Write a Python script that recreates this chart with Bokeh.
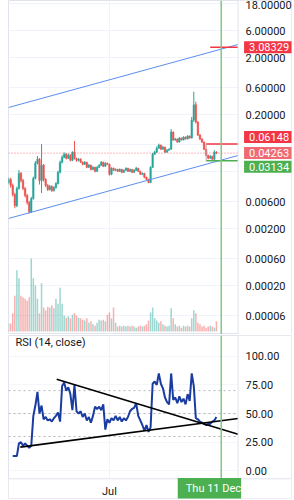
import math
import numpy as np
import pandas as pd
from bokeh.plotting import figure
from bokeh.layouts import column
from bokeh.models import (ColumnDataSource, Range1d, LinearScale, FixedTicker,
                          CustomJSTickFormatter, DatetimeTickFormatter, Span, Label,
                          BoxAnnotation)
from bokeh.embed import file_html
from bokeh.resources import INLINE

# ---------------- data ----------------
first_bar = "2025-02-04"
bar_step_days = 3

opens = [0.0130, 0.0147, 0.0115, 0.0080, 0.0051, 0.0102, 0.0188, 0.0141, 0.0102, 0.0077,
         0.0058, 0.0040, 0.0068, 0.0153, 0.0283, 0.0333, 0.0141, 0.0261, 0.0147, 0.0115,
         0.0098, 0.0111, 0.0094, 0.0106, 0.0125, 0.0196, 0.0294, 0.0361, 0.0408, 0.0347,
         0.0392, 0.0319, 0.0443, 0.0340, 0.0319, 0.0333, 0.0294, 0.0271, 0.0294, 0.0240,
         0.0261, 0.0221, 0.0240, 0.0204, 0.0240, 0.0261, 0.0294, 0.0250, 0.0283, 0.0271,
         0.0181, 0.0231, 0.0213, 0.0221, 0.0204, 0.0221, 0.0196, 0.0213, 0.0231, 0.0204,
         0.0221, 0.0196, 0.0213, 0.0231, 0.0204, 0.0181, 0.0188, 0.0160, 0.0147, 0.0130,
         0.0240, 0.0408, 0.0443, 0.0521, 0.0589, 0.0500, 0.0543, 0.0443, 0.0480, 0.0500,
         0.1000, 0.0722, 0.0752, 0.0665, 0.0783, 0.0722, 0.0816, 0.0752, 0.0850, 0.0783,
         0.163, 0.300, 0.150, 0.0885, 0.0752, 0.0665, 0.0500, 0.0392, 0.0347, 0.0376,
         0.0333, 0.0443]
highs = [0.0160, 0.0158, 0.0125, 0.0086, 0.0110, 0.0215, 0.0200, 0.0150, 0.0108, 0.0082,
         0.0062, 0.0073, 0.0165, 0.0310, 0.0380, 0.0350, 0.0613, 0.0275, 0.0155, 0.0122,
         0.0118, 0.0116, 0.0112, 0.0132, 0.0210, 0.0315, 0.0390, 0.0440, 0.0425, 0.0420,
         0.0410, 0.0460, 0.0693, 0.0355, 0.0350, 0.0345, 0.0305, 0.0310, 0.0300, 0.0275,
         0.0268, 0.0250, 0.0246, 0.0252, 0.0272, 0.0310, 0.0302, 0.0295, 0.0290, 0.0278,
         0.0240, 0.0238, 0.0230, 0.0226, 0.0230, 0.0226, 0.0220, 0.0240, 0.0236, 0.0228,
         0.0225, 0.0222, 0.0245, 0.0236, 0.0210, 0.0195, 0.0192, 0.0165, 0.0152, 0.0250,
         0.0430, 0.0470, 0.0560, 0.0625, 0.0600, 0.0570, 0.0555, 0.0500, 0.0520, 0.1130,
         0.1020, 0.0790, 0.0770, 0.0810, 0.0800, 0.0840, 0.0830, 0.0880, 0.0870, 0.184,
         0.510, 0.340, 0.155, 0.0920, 0.0780, 0.0680, 0.0510, 0.0400, 0.0392, 0.0385,
         0.0480, 0.0460]
lows = [0.0122, 0.0105, 0.0074, 0.0046, 0.0048, 0.0098, 0.0130, 0.0095, 0.0071, 0.0053,
        0.0037, 0.0038, 0.0065, 0.0148, 0.0270, 0.0120, 0.0085, 0.0135, 0.0108, 0.0092,
        0.0094, 0.0089, 0.0090, 0.0101, 0.0120, 0.0188, 0.0282, 0.0345, 0.0330, 0.0335,
        0.0305, 0.0308, 0.0330, 0.0300, 0.0305, 0.0285, 0.0260, 0.0265, 0.0232, 0.0235,
        0.0212, 0.0215, 0.0196, 0.0200, 0.0234, 0.0255, 0.0243, 0.0245, 0.0262, 0.0172,
        0.0175, 0.0206, 0.0207, 0.0198, 0.0200, 0.0190, 0.0192, 0.0208, 0.0199, 0.0200,
        0.0190, 0.0192, 0.0208, 0.0198, 0.0176, 0.0175, 0.0155, 0.0141, 0.0126, 0.0127,
        0.0235, 0.0395, 0.0430, 0.0505, 0.0485, 0.0490, 0.0430, 0.0435, 0.0470, 0.0490,
        0.0700, 0.0705, 0.0650, 0.0655, 0.0710, 0.0715, 0.0740, 0.0745, 0.0770, 0.0770,
        0.150, 0.140, 0.0850, 0.0720, 0.0640, 0.0480, 0.0376, 0.0333, 0.0340, 0.0319,
        0.0325, 0.0410]
closes = [0.0147, 0.0115, 0.0080, 0.0051, 0.0102, 0.0188, 0.0141, 0.0102, 0.0077, 0.0058,
          0.0040, 0.0068, 0.0153, 0.0283, 0.0333, 0.0141, 0.0261, 0.0147, 0.0115, 0.0098,
          0.0111, 0.0094, 0.0106, 0.0125, 0.0196, 0.0294, 0.0361, 0.0408, 0.0347, 0.0392,
          0.0319, 0.0443, 0.0340, 0.0319, 0.0333, 0.0294, 0.0271, 0.0294, 0.0240, 0.0261,
          0.0221, 0.0240, 0.0204, 0.0240, 0.0261, 0.0294, 0.0250, 0.0283, 0.0271, 0.0181,
          0.0231, 0.0213, 0.0221, 0.0204, 0.0221, 0.0196, 0.0213, 0.0231, 0.0204, 0.0221,
          0.0196, 0.0213, 0.0231, 0.0204, 0.0181, 0.0188, 0.0160, 0.0147, 0.0130, 0.0240,
          0.0408, 0.0443, 0.0521, 0.0589, 0.0500, 0.0543, 0.0443, 0.0480, 0.0500, 0.1000,
          0.0722, 0.0752, 0.0665, 0.0783, 0.0722, 0.0816, 0.0752, 0.0850, 0.0783, 0.163,
          0.300, 0.150, 0.0885, 0.0752, 0.0665, 0.0500, 0.0392, 0.0347, 0.0376, 0.0333,
          0.0443, 0.04263]
volumes = [11, 11, 25, 49, 84, 73, 49, 47, 45, 42,
           47, 100, 73, 63, 45, 25, 66, 33, 29, 34,
           33, 36, 32, 45, 38, 60, 38, 22, 19, 21,
           18, 23, 25, 22, 19, 18, 16, 15, 18, 12,
           14, 10, 8, 12, 16, 15, 16, 14, 23, 26,
           18, 33, 12, 7, 8, 7, 8, 7, 8, 7,
           8, 7, 5, 7, 8, 7, 8, 10, 15, 26,
           33, 18, 15, 12, 14, 10, 8, 7, 8, 32,
           18, 10, 7, 8, 5, 8, 7, 8, 7, 18,
           29, 25, 12, 10, 7, 8, 5, 7, 8, 7,
           5, 14]
nan = float("nan")
rsi_values = [nan, nan, 13, 13, 13, 24, 25, 22, 24, 22,
              20, 22, 48, 57, 69, 50, 57, 45, 47, 44,
              45, 43, 46, 48, 51, 43, 74, 77, 70, 73,
              67, 53, 75, 52, 50, 52, 47, 50, 44, 47,
              42, 48, 56, 54, 56, 53, 58, 36, 45, 42,
              46, 44, 48, 44, 47, 43, 46, 44, 47, 52,
              54, 55, 59, 48, 44, 40, 35, 40, 34, 38,
              76, 78, 75, 85, 76, 72, 64, 60, 58, 85,
              62, 64, 59, 65, 60, 63, 58, 67, 61, 85,
              74, 46, 45, 43, 42, 41, 40, 41, 41, 43,
              44, 47]

price_ticks = [0.00006, 0.0002, 0.0006, 0.002, 0.006, 0.02, 0.06, 0.2, 0.6, 2, 6, 18]
rsi_ticks = [0, 25, 50, 75, 100]
rsi_bands = [70, 50, 30]

view_start = "2025-02-03 19:00"   # left edge of the chart pane
pane_end = "2026-01-04 14:00"     # where the price scale begins
canvas_end = "2026-03-23 12:00"   # right edge of the picture
month_tick = "2025-07-01"
cursor_date = "2025-12-11"
cursor_label = "Thu 11 Dec"
indicator_title = "RSI (14, close)"

channel_dates = [view_start, pane_end]
channel_upper = [0.269, 3.43]
channel_lower = [0.00304, 0.0387]

last_price = 0.04263
target_price = 3.08329
range_top = 0.06148
range_bottom = 0.03134
target_from = "2025-11-25"
range_from = "2025-11-19"

rsi_upper_dates = ["2025-04-15", pane_end]
rsi_upper_vals = [80, 32]
rsi_lower_dates = ["2025-02-21", pane_end]
rsi_lower_vals = [20.7, 45.7]

# ---------------- styling ----------------
FONT = "Roboto"
TXT = "#131722"
GRID = "#f0f3fa"
BORDER = "#e0e3eb"
UP, DOWN = "#26A69A", "#EF5350"
RED, PINK, GREEN = "#F23645", "#F06A73", "#4CAF50"
P1_H = 334
PRICE_LO, PRICE_HI = 2.8e-5, 20.3


def ms(s):
    return pd.Timestamp(s).value / 1e6


dates = pd.date_range(first_bar, periods=len(closes), freq=f"{bar_step_days}D")
colors = [UP if c >= o else DOWN for o, c in zip(opens, closes)]
src = ColumnDataSource(dict(date=dates, open=opens, high=highs, low=lows, close=closes,
                            vol=volumes, color=colors,
                            rsi=np.array(rsi_values, dtype=float)))
bar_w = 2.2 * 86400000
x0, x_pane, x_end = ms(view_start), ms(pane_end), ms(canvas_end)
x_rng = Range1d(x0, x_end)

# price tags: (price, colour, vertical shift in px to avoid overlaps)
tag_specs = [(target_price, RED, 0), (range_top, RED, 7),
             (last_price, PINK, 0), (range_bottom, GREEN, -6)]
px_per_decade = P1_H / (math.log10(PRICE_HI) - math.log10(PRICE_LO))
tag_centers = [math.log10(p) + dy / px_per_decade for p, _, dy in tag_specs]
hide_within = 9 / px_per_decade   # scale labels covered by a tag are not drawn


def style_value_axis(axis, ticker, formatter):
    axis.ticker = ticker
    axis.formatter = formatter
    axis.major_tick_line_color = None
    axis.minor_tick_line_color = None
    axis.major_tick_out = 0
    axis.major_tick_in = 0
    axis.axis_line_color = None
    axis.major_label_standoff = -46
    axis.major_label_text_font = FONT
    axis.major_label_text_font_size = "11px"
    axis.major_label_text_color = TXT


price_fmt = CustomJSTickFormatter(
    args=dict(centers=tag_centers, lim=hide_within),
    code="""
    const l = Math.log10(tick);
    for (const c of centers) { if (Math.abs(l - c) < lim) return ""; }
    return tick.toFixed(5);
    """)

# ---------------- price pane ----------------
p1 = figure(width=294, height=P1_H, x_axis_type="datetime", y_axis_type="log",
            x_range=x_rng, y_range=Range1d(PRICE_LO, PRICE_HI), y_axis_location="right",
            output_backend="svg", toolbar_location=None,
            min_border_left=8, min_border_right=0, min_border_top=0, min_border_bottom=0,
            background_fill_color="white", border_fill_color="white",
            outline_line_color=BORDER)
p1.xaxis.visible = False
pt = FixedTicker(ticks=price_ticks)
style_value_axis(p1.yaxis[0], pt, price_fmt)
p1.ygrid.ticker = pt
p1.ygrid.grid_line_color = GRID
p1.xgrid.ticker = FixedTicker(ticks=[ms(month_tick)])
p1.xgrid.grid_line_color = GRID
p1.add_layout(BoxAnnotation(left=x_pane, fill_color="white", fill_alpha=1,
                            line_color=None, level="underlay"))
p1.add_layout(Span(location=x_pane, dimension="height", line_color=BORDER, line_width=1))

p1.extra_y_ranges = {"vol": Range1d(-4.1, 453.5)}
p1.extra_y_scales = {"vol": LinearScale()}
p1.vbar(x="date", width=bar_w, top="vol", bottom=0, y_range_name="vol",
        fill_color="color", line_color=None, fill_alpha=0.45, source=src)

p1.segment(x0="date", y0="high", x1="date", y1="low", line_color="color",
           line_width=1, source=src)
p1.vbar(x="date", width=bar_w, top="open", bottom="close", fill_color="color",
        line_color="color", line_width=0.5, source=src)

cd = [ms(d) for d in channel_dates]
p1.line(cd, channel_upper, line_color="#5B8DEF", line_width=1)
p1.line(cd, channel_lower, line_color="#5B8DEF", line_width=1)

p1.segment(x0=[x0], y0=[last_price], x1=[x_pane], y1=[last_price], line_color=RED,
           line_alpha=0.7, line_dash="1 2", line_width=1)
p1.segment(x0=[ms(target_from)], y0=[target_price], x1=[x_pane], y1=[target_price],
           line_color=RED, line_width=1.5)
p1.segment(x0=[ms(range_from)], y0=[range_top], x1=[x_pane], y1=[range_top],
           line_color=RED, line_width=1.5)
p1.segment(x0=[ms(range_from)], y0=[range_bottom], x1=[x_pane], y1=[range_bottom],
           line_color=GREEN, line_width=1.5)
p1.segment(x0=[ms(range_from)], y0=[range_bottom], x1=[ms(range_from)], y1=[range_top],
           line_color="#c9a0a4", line_width=1)
p1.add_layout(Span(location=ms(cursor_date), dimension="height",
                   line_color="#81C784", line_width=1.5))

for price, color, dy in tag_specs:
    p1.add_layout(Label(x=x_pane, y=price, x_offset=6, y_offset=dy, level="overlay",
                        text=f"{price:.5f}", text_font=FONT, text_font_size="11px",
                        text_color="white", text_align="left", text_baseline="middle",
                        background_fill_color=color,
                        padding=dict(left=5, right=5, top=2, bottom=2)))

# ---------------- RSI pane + time scale ----------------
p2 = figure(width=294, height=166, x_axis_type="datetime", x_range=x_rng,
            y_range=Range1d(-24.1, 118.1), y_axis_location="right",
            output_backend="svg", toolbar_location=None,
            min_border_left=8, min_border_right=0, min_border_top=1, min_border_bottom=0,
            background_fill_color="white", border_fill_color="white",
            outline_line_color=BORDER)
rt = FixedTicker(ticks=rsi_ticks)
style_value_axis(p2.yaxis[0], rt, CustomJSTickFormatter(code="return tick.toFixed(2);"))
p2.ygrid.ticker = rt
p2.ygrid.grid_line_color = "#f5f6f9"

axx = p2.xaxis[0]
xt = FixedTicker(ticks=[ms(month_tick)])
axx.ticker = xt
fmt = "%b"
axx.formatter = DatetimeTickFormatter(microseconds=fmt, milliseconds=fmt, seconds=fmt,
                                      minsec=fmt, minutes=fmt, hourmin=fmt, hours=fmt,
                                      days=fmt, months=fmt, years=fmt)
axx.major_tick_line_color = None
axx.minor_tick_line_color = None
axx.major_tick_out = 0
axx.major_tick_in = 0
axx.axis_line_color = None
axx.major_label_standoff = -14
axx.major_label_text_font = FONT
axx.major_label_text_font_size = "11px"
axx.major_label_text_color = TXT
p2.xgrid.ticker = xt
p2.xgrid.grid_line_color = GRID

rsi_floor = -6.9
p2.add_layout(BoxAnnotation(left=x_pane, fill_color="white", fill_alpha=1,
                            line_color=None, level="underlay"))
p2.add_layout(BoxAnnotation(top=rsi_floor, fill_color="white", fill_alpha=1,
                            line_color=None, level="underlay"))
p2.add_layout(Span(location=x_pane, dimension="height", line_color=BORDER, line_width=1))
p2.add_layout(Span(location=rsi_floor, dimension="width", line_color=BORDER, line_width=1))

p2.segment(x0=[x0] * len(rsi_bands), y0=rsi_bands, x1=[x_pane] * len(rsi_bands),
           y1=rsi_bands, line_color="#9598a1", line_alpha=0.7, line_dash="2 3",
           line_width=1)

p2.line(x="date", y="rsi", line_color="#1A3CA0", line_width=2, source=src)
p2.line([ms(d) for d in rsi_upper_dates], rsi_upper_vals, line_color="black", line_width=1.6)
p2.line([ms(d) for d in rsi_lower_dates], rsi_lower_vals, line_color="black", line_width=1.6)
p2.add_layout(Span(location=ms(cursor_date), dimension="height",
                   line_color="#81C784", line_width=1.5))

p2.add_layout(Label(x=7, y=156, x_units="screen", y_units="screen", text=indicator_title,
                    text_font=FONT, text_font_size="11px", text_color=TXT,
                    text_baseline="middle"))
p2.add_layout(Label(x=x_pane, y=10, y_units="screen", x_offset=3, text=cursor_label,
                    level="overlay",
                    text_font=FONT, text_font_size="11px", text_color="white",
                    text_align="right", text_baseline="middle",
                    background_fill_color=GREEN,
                    padding=dict(left=8, right=0, top=4, bottom=4)))

layout = column(p1, p2, spacing=0)
open("out.html", "w").write(file_html(layout, INLINE))
